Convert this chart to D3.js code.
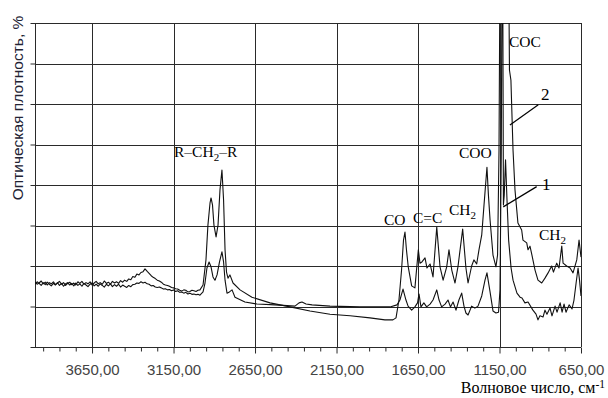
<!DOCTYPE html>
<html>
<head>
<meta charset="utf-8">
<script src="https://cdn.jsdelivr.net/npm/d3@7"></script>
<style>
  body { margin: 0; background: #fff; }
  svg { display: block; }
</style>
</head>
<body>
<div id="chart"></div>
<script>
// spectrum 2 (upper trace) : [wavenumber, absorbance in grid units]
const curve2 = [
  [4000,1.60],[3987,1.55],[3975,1.58],[3962,1.63],[3950,1.56],[3937,1.60],[3925,1.53],[3912,1.59],
  [3900,1.56],[3887,1.61],[3875,1.54],[3862,1.58],[3850,1.62],[3837,1.55],[3825,1.59],[3812,1.52],
  [3800,1.57],[3787,1.60],[3775,1.54],[3762,1.58],[3750,1.53],[3737,1.61],[3725,1.57],[3712,1.62],
  [3700,1.55],[3687,1.59],[3675,1.56],[3662,1.61],[3650,1.53],[3637,1.58],[3625,1.62],[3612,1.56],
  [3600,1.59],[3587,1.55],[3575,1.63],[3562,1.57],[3550,1.60],[3537,1.55],[3525,1.62],[3512,1.58],
  [3500,1.61],[3487,1.57],[3475,1.64],[3462,1.60],[3450,1.65],[3437,1.62],[3425,1.68],[3412,1.66],
  [3400,1.74],[3387,1.72],[3375,1.80],[3362,1.78],[3350,1.84],[3337,1.86],[3325,1.93],[3310,1.86],
  [3300,1.82],[3287,1.76],[3275,1.72],[3262,1.69],[3250,1.65],[3237,1.63],[3225,1.60],[3212,1.55],
  [3200,1.53],[3187,1.52],[3175,1.50],[3162,1.47],[3150,1.46],[3137,1.44],[3125,1.43],[3112,1.40],
  [3100,1.38],[3087,1.41],[3075,1.40],[3062,1.36],[3050,1.37],[3037,1.40],[3025,1.39],[3012,1.37],
  [3000,1.40],[2988,1.41],[2969,1.53],[2951,2.15],[2939,3.01],[2926,3.56],[2920,3.68],
  [2911,3.51],[2902,3.01],[2889,2.72],[2877,3.01],[2865,3.88],[2853,4.37],[2843,3.63],[2834,2.40],
  [2825,1.85],[2816,1.70],[2804,1.78],[2785,1.58],[2742,1.41],[2669,1.23],[2558,1.09],[2435,0.99],
  [2313,0.89],[2190,0.81],[2067,0.77],[1945,0.72],[1853,0.67],[1804,0.67],[1785,0.72],[1767,1.16],
  [1751,1.90],[1739,2.64],[1730,2.84],[1721,2.40],[1710,1.98],[1689,1.51],[1669,1.46],[1648,2.40],
  [1638,2.07],[1626,2.10],[1607,2.20],[1595,1.95],[1576,2.05],[1558,1.73],[1535,2.96],[1515,1.98],
  [1496,1.65],[1474,1.98],[1460,2.40],[1443,1.90],[1423,1.58],[1405,1.98],[1376,2.91],[1356,1.95],
  [1343,1.58],[1321,2.00],[1307,2.15],[1290,2.05],[1276,2.40],[1259,2.77],[1245,3.51],[1227,4.44],
  [1218,3.75],[1208,3.14],[1190,2.27],[1172,1.98],[1162,2.27],[1153,4.86],[1147,9.50],[1098,9.50],
  [1092,8.50],[1089,6.84],[1080,6.59],[1067,4.86],[1055,3.88],[1037,3.06],[1014,2.89],[1006,2.64],
  [983,2.57],[975,2.40],[963,2.49],[951,2.27],[932,1.90],[914,1.65],[891,1.58],[871,1.70],
  [852,1.83],[830,2.00],[819,1.85],[799,2.07],[785,1.95],[768,2.49],[760,2.07],[738,2.00],
  [717,1.95],[699,1.83],[676,2.15],[662,2.64],[650,2.22]
];

// spectrum 1 (lower trace)
const curve1 = [
  [4000,1.55],[3987,1.61],[3975,1.57],[3962,1.52],[3950,1.59],[3937,1.54],[3925,1.60],[3912,1.55],
  [3900,1.51],[3887,1.57],[3875,1.53],[3862,1.59],[3850,1.52],[3837,1.57],[3825,1.50],[3812,1.56],
  [3800,1.59],[3787,1.53],[3775,1.57],[3762,1.51],[3750,1.58],[3737,1.52],[3725,1.56],[3712,1.50],
  [3700,1.57],[3687,1.53],[3675,1.49],[3662,1.55],[3650,1.58],[3637,1.51],[3625,1.55],[3612,1.50],
  [3600,1.56],[3587,1.52],[3575,1.48],[3562,1.55],[3550,1.51],[3537,1.56],[3525,1.49],[3512,1.54],
  [3500,1.50],[3487,1.55],[3475,1.48],[3462,1.53],[3450,1.50],[3437,1.47],[3425,1.52],[3412,1.49],
  [3400,1.54],[3387,1.55],[3375,1.58],[3362,1.57],[3350,1.61],[3337,1.58],[3325,1.60],[3312,1.56],
  [3300,1.55],[3287,1.51],[3275,1.52],[3262,1.48],[3250,1.47],[3237,1.48],[3225,1.46],[3212,1.43],
  [3200,1.44],[3187,1.41],[3175,1.42],[3162,1.39],[3150,1.41],[3137,1.37],[3125,1.39],[3112,1.35],
  [3100,1.36],[3087,1.33],[3075,1.35],[3062,1.31],[3050,1.33],[3037,1.30],[3025,1.31],[3012,1.29],
  [3000,1.30],[2988,1.28],[2969,1.36],[2957,1.58],[2945,1.95],[2932,2.10],[2920,1.98],[2908,1.73],
  [2896,1.65],[2883,1.78],[2868,2.10],[2853,2.35],[2843,2.10],[2834,1.65],[2822,1.33],[2807,1.36],
  [2791,1.41],[2773,1.23],[2712,1.11],[2638,1.06],[2527,1.04],[2405,1.01],[2380,1.09],[2362,1.11],
  [2337,1.06],[2300,1.04],[2190,1.01],[2006,0.99],[1822,0.99],[1779,1.04],[1761,1.16],[1742,1.43],
  [1724,1.16],[1711,1.01],[1689,0.91],[1669,0.99],[1653,1.09],[1644,1.31],[1632,0.99],[1614,1.09],
  [1597,0.99],[1576,1.06],[1558,1.16],[1535,1.41],[1521,1.16],[1505,0.99],[1484,1.06],[1466,1.16],
  [1451,0.99],[1435,1.11],[1417,0.91],[1399,1.16],[1382,1.33],[1368,1.01],[1356,0.84],[1343,0.79],
  [1321,1.01],[1301,0.96],[1282,1.01],[1259,1.26],[1239,1.65],[1227,1.83],[1208,1.36],[1190,0.89],
  [1172,0.84],[1156,0.86],[1147,1.41],[1139,4.86],[1135,9.00],[1130,9.00],[1126,3.51],[1121,3.75],
  [1113,4.62],[1104,3.63],[1094,2.64],[1079,1.95],[1067,1.65],[1043,1.33],[1024,1.23],[1012,1.21],
  [994,1.09],[975,1.11],[945,0.91],[926,0.81],[914,0.67],[902,0.77],[883,0.74],[871,0.91],
  [859,0.81],[840,0.96],[828,0.77],[809,1.01],[797,0.86],[778,1.09],[766,0.86],[754,1.06],
  [742,0.86],[723,1.04],[705,0.94],[693,1.16],[680,1.58],[668,1.95],[659,1.65],[650,1.26]
];

const xMajorTicks = [3650, 3150, 2650, 2150, 1650, 1150, 650];
const xMinorTicks = [3950, 3850, 3750, 3550, 3450, 3350, 3250, 3050, 2950, 2850, 2750,
  2550, 2450, 2350, 2250, 2050, 1950, 1850, 1750, 1550, 1450, 1350, 1250, 1050, 950, 850, 750];
const yTicks = [0, 1, 2, 3, 4, 5, 6, 7, 8];

const W = 608, H = 398;
const margin = { top: 23, right: 27, bottom: 51, left: 35 };

const svg = d3.select('#chart').append('svg')
  .attr('width', W)
  .attr('height', H);

const x = d3.scaleLinear().domain([4000, 650]).range([margin.left, W - margin.right]);
const y = d3.scaleLinear().domain([0, 8]).range([H - margin.bottom, margin.top]);

const fmt = d => d.toFixed(2).replace('.', ',');

// grid
const grid = svg.append('g').attr('stroke', '#2a2a2a').attr('stroke-width', 1).attr('shape-rendering', 'crispEdges');
grid.selectAll('.hg').data(yTicks).join('line')
  .attr('x1', x(4000)).attr('x2', x(650))
  .attr('y1', d => Math.round(y(d)) + 0.5).attr('y2', d => Math.round(y(d)) + 0.5);
grid.selectAll('.vg').data(xMajorTicks).join('line')
  .attr('x1', d => Math.round(x(d)) + 0.5).attr('x2', d => Math.round(x(d)) + 0.5)
  .attr('y1', y(0)).attr('y2', y(8));
grid.append('line')
  .attr('x1', x(4000) + 0.5).attr('x2', x(4000) + 0.5)
  .attr('y1', y(0)).attr('y2', y(8));

// y ticks (no labels)
svg.append('g')
  .attr('transform', `translate(${Math.round(x(4000)) + 0.5},0)`)
  .call(d3.axisLeft(y).tickValues(yTicks).tickSize(5).tickFormat(''))
  .call(g => g.select('.domain').remove())
  .call(g => g.selectAll('line').attr('stroke', '#2a2a2a'));

// x axis: minor + major
svg.append('g')
  .attr('transform', `translate(0,${Math.round(y(0)) + 0.5})`)
  .call(d3.axisBottom(x).tickValues(xMinorTicks).tickSize(4).tickFormat(''))
  .call(g => g.select('.domain').remove())
  .call(g => g.selectAll('line').attr('stroke', '#2a2a2a'));
svg.append('g')
  .attr('transform', `translate(0,${Math.round(y(0)) + 0.5})`)
  .call(d3.axisBottom(x).tickValues(xMajorTicks).tickSize(6).tickPadding(11).tickFormat(fmt))
  .call(g => g.select('.domain').remove())
  .call(g => g.selectAll('line').attr('stroke', '#2a2a2a'))
  .call(g => g.selectAll('text')
    .attr('font-family', '"Liberation Sans", Arial, sans-serif')
    .attr('font-size', 15)
    .attr('fill', '#444'));

// traces
svg.append('clipPath').attr('id', 'plot-clip')
  .append('rect')
  .attr('x', x(4000)).attr('y', y(8))
  .attr('width', x(650) - x(4000)).attr('height', y(0) - y(8));

const line = d3.line().x(d => x(d[0])).y(d => y(d[1]));
const traces = svg.append('g').attr('clip-path', 'url(#plot-clip)');
[curve1, curve2].forEach(c => {
  traces.append('path')
    .datum(c)
    .attr('d', line)
    .attr('fill', 'none')
    .attr('stroke', '#111')
    .attr('stroke-width', 1.1)
    .attr('stroke-linejoin', 'round');
});

// annotations
const serif = '"Liberation Serif", "Times New Roman", serif';
const ann = svg.append('g').attr('font-family', serif).attr('font-size', 15.5).attr('fill', '#000');

function label(w, v, parts) {
  const t = ann.append('text').attr('x', x(w)).attr('y', y(v));
  let shifted = false;
  parts.forEach(p => {
    if (p.sub) {
      t.append('tspan').attr('font-size', 11).attr('dy', 4).text(p.sub);
      shifted = true;
    } else {
      const s = t.append('tspan').text(p.t);
      if (shifted) { s.attr('dy', -4); shifted = false; }
    }
  });
  return t;
}

label(3147, 4.69, [{ t: 'R–CH' }, { sub: '2' }, { t: '–R' }]);
label(1859, 3.01, [{ t: 'CO' }]);
label(1681, 3.06, [{ t: 'C=C' }]);
label(1460, 3.26, [{ t: 'CH' }, { sub: '2' }]);
label(1399, 4.67, [{ t: 'COO' }]);
label(1092, 7.41, [{ t: 'COC' }]);
label(895, 6.10, [{ t: '2' }]).attr('font-size', 17);
label(889, 3.88, [{ t: '1' }]).attr('font-size', 17);
label(908, 2.64, [{ t: 'CH' }, { sub: '2' }]);

const leaders = [
  [[912, 5.98], [1086, 5.48]],
  [[922, 3.96], [1127, 3.46]]
];
svg.append('g').selectAll('line').data(leaders).join('line')
  .attr('x1', d => x(d[0][0])).attr('y1', d => y(d[0][1]))
  .attr('x2', d => x(d[1][0])).attr('y2', d => y(d[1][1]))
  .attr('stroke', '#000').attr('stroke-width', 1.2);

// axis titles
svg.append('text')
  .attr('transform', `translate(23,${(y(0) + y(8)) / 2 - 77}) rotate(-90)`)
  .attr('text-anchor', 'middle')
  .attr('font-family', '"Liberation Sans", Arial, sans-serif')
  .attr('font-size', 15.5)
  .attr('fill', '#223')
  .text('Оптическая плотность, %');

const xt = svg.append('text')
  .attr('x', 605).attr('y', 393)
  .attr('text-anchor', 'end')
  .attr('font-family', serif)
  .attr('font-size', 16)
  .attr('fill', '#000');
xt.append('tspan').text('Волновое число, см');
xt.append('tspan').attr('dy', -5).attr('font-size', 11.5).text('-1');
</script>
</body>
</html>
